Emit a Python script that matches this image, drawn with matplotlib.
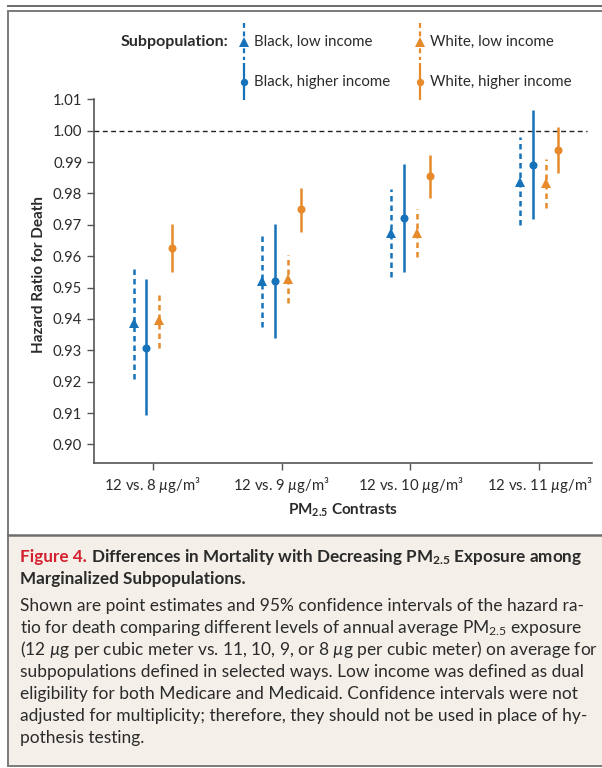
import matplotlib
matplotlib.use('Agg')
import matplotlib.pyplot as plt
from matplotlib.patches import Rectangle
from matplotlib.lines import Line2D

plt.rcParams['font.family'] = ['Lato', 'DejaVu Sans']
plt.rcParams['mathtext.fontset'] = 'custom'
plt.rcParams['mathtext.rm'] = 'Lato'
plt.rcParams['mathtext.it'] = 'Lato:italic'
plt.rcParams['mathtext.bf'] = 'Lato:bold'

MU = '$\\mathit{\u00b5}$'

# data
contrasts = ['12 vs. 8 ' + MU + 'g/m\u00b3', '12 vs. 9 ' + MU + 'g/m\u00b3',
             '12 vs. 10 ' + MU + 'g/m\u00b3', '12 vs. 11 ' + MU + 'g/m\u00b3']
groups = ['Black, low income', 'Black, higher income',
          'White, low income', 'White, higher income']

black_low_hr = [0.9386, 0.9521, 0.9675, 0.9837]
black_low_lo = [0.9208, 0.9373, 0.9534, 0.9699]
black_low_hi = [0.9564, 0.9671, 0.9815, 0.9979]

black_high_hr = [0.9307, 0.9520, 0.9722, 0.9891]
black_high_lo = [0.9094, 0.9339, 0.9550, 0.9717]
black_high_hi = [0.9527, 0.9702, 0.9894, 1.0066]

white_low_hr = [0.9396, 0.9527, 0.9673, 0.9832]
white_low_lo = [0.9308, 0.9450, 0.9598, 0.9753]
white_low_hi = [0.9482, 0.9604, 0.9749, 0.9910]

white_high_hr = [0.9627, 0.9749, 0.9855, 0.9938]
white_high_lo = [0.9550, 0.9678, 0.9784, 0.9866]
white_high_hi = [0.9702, 0.9818, 0.9922, 1.0013]

yticks = [0.90, 0.91, 0.92, 0.93, 0.94, 0.95, 0.96, 0.97, 0.98, 0.99, 1.00, 1.01]

BLUE = '#1672b9'
ORANGE = '#e78a2b'
DARK = '#2b2b2b'
dash = (0, (2.2, 1.6))

series = [
    (black_low_hr, black_low_lo, black_low_hi, BLUE, '^', dash, -0.148),
    (black_high_hr, black_high_lo, black_high_hi, BLUE, 'o', 'solid', -0.049),
    (white_low_hr, white_low_lo, white_low_hi, ORANGE, '^', dash, 0.049),
    (white_high_hr, white_high_lo, white_high_hi, ORANGE, 'o', 'solid', 0.148),
]

W, H = 602, 768
fig = plt.figure(figsize=(W / 100, H / 100), dpi=100)

def fx(x):
    return x / W

def fy(y):
    return 1 - y / H

# frame and caption box (behind the axes)
fig.patches.append(Rectangle((fx(7), fy(7)), 1, 2 / H, transform=fig.transFigure,
                             facecolor='#6e6e6e', edgecolor='none', zorder=-10))
fig.patches.append(Rectangle((fx(8), fy(766)), 1, (766 - 11) / H, transform=fig.transFigure,
                             facecolor='white', edgecolor='#7a7a7a', lw=1.4, zorder=-10))
fig.patches.append(Rectangle((fx(9), fy(765)), 1, (765 - 536) / H, transform=fig.transFigure,
                             facecolor='#f4f0e9', edgecolor='none', zorder=-9))
fig.lines.append(Line2D([fx(8), 1], [fy(535), fy(535)], transform=fig.transFigure,
                        color='#6e6e6e', lw=1.8, zorder=-8))

# main axes
ax = fig.add_axes([fx(94), fy(462.7), fx(592) - fx(94), fy(99.3) - fy(462.7)])
ax.set_facecolor('none')
ax.set_xlim(-0.455, 3.408)
ax.set_ylim(0.8942, 1.01)

ax.axhline(1.0, xmin=0, xmax=0.99, color='#222222', lw=1.0, ls=(0, (3.5, 2.5)), zorder=1)

xs = range(len(contrasts))
for hr, lo, hi, col, mk, ls, off in series:
    xpos = [x + off for x in xs]
    ax.vlines(xpos, lo, hi, colors=col, linestyles=ls, lw=1.8, zorder=2)
    ax.plot(xpos, hr, ls='none', marker=mk, color=col,
            markersize=7 if mk == '^' else 5.8, markeredgewidth=0, zorder=3)

for s in ['top', 'right']:
    ax.spines[s].set_visible(False)
for s in ['left', 'bottom']:
    ax.spines[s].set_color('#555555')
    ax.spines[s].set_linewidth(1.2)

ax.set_yticks(yticks)
ax.set_yticklabels(['%.2f' % v for v in yticks])
ax.set_xticks(list(xs))
ax.set_xticklabels(contrasts)
ax.tick_params(axis='both', colors='#555555', labelcolor=DARK, labelsize=10.7, length=5, width=1)
ax.tick_params(axis='x', pad=4)

ax.set_ylabel('Hazard Ratio for Death', fontsize=11, fontweight='bold', color=DARK)
ax.yaxis.set_label_coords(-0.097, 0.517)
ax.set_xlabel(r'$\mathbf{PM}_{\mathbf{2.5}}$ Contrasts', fontsize=11, fontweight='bold', color=DARK)
ax.xaxis.set_label_coords(0.5, -0.108)

# legend
lax = fig.add_axes([0, 0, 1, 1], facecolor='none')
lax.set_xlim(0, W)
lax.set_ylim(H, 0)
lax.axis('off')
fig.text(fx(228), fy(42), 'Subpopulation:', fontsize=11.5, fontweight='bold', color=DARK,
         ha='right', va='center')
leg_pos = [(244, 42), (244, 82), (420, 42), (420, 82)]
for (hr, lo, hi, col, mk, ls, off), name, (lx, ly) in zip(series, groups, leg_pos):
    lax.vlines([lx], [ly - 19], [ly + 18], colors=col, linestyles=ls, lw=1.6)
    lax.plot([lx], [ly], ls='none', marker=mk, color=col,
             markersize=6.5 if mk == '^' else 5.3, markeredgewidth=0)
    fig.text(fx(lx + 10), fy(ly), name, fontsize=10.8, color=DARK, ha='left', va='center')

# caption
renderer = fig.canvas.get_renderer()

def put_runs(y, runs, size):
    x = fx(20)
    for txt, col, wt in runs:
        t = fig.text(x, fy(y), txt, fontsize=size, color=col, fontweight=wt,
                     ha='left', va='baseline')
        bb = t.get_window_extent(renderer=renderer)
        x = bb.x1 / W

put_runs(562, [('Figure 4. ', '#d4202f', 'bold'),
               (r'Differences in Mortality with Decreasing PM$_{\mathbf{2.5}}$ Exposure among', DARK, 'bold')], 12.3)
put_runs(584, [('Marginalized Subpopulations.', DARK, 'bold')], 12.3)

body = [
    'Shown are point estimates and 95% confidence intervals of the hazard ra-',
    r'tio for death comparing different levels of annual average PM$_{2.5}$ exposure',
    '(12 ' + MU + 'g per cubic meter vs. 11, 10, 9, or 8 ' + MU + 'g per cubic meter) on average for',
    'subpopulations defined in selected ways. Low income was defined as dual',
    'eligibility for both Medicare and Medicaid. Confidence intervals were not',
    'adjusted for multiplicity; therefore, they should not be used in place of hy-',
    'pothesis testing.',
]
for i, line in enumerate(body):
    fig.text(fx(20), fy(611 + 22 * i), line, fontsize=12.5, color=DARK, ha='left', va='baseline')

fig.savefig('out.png', dpi=100)
